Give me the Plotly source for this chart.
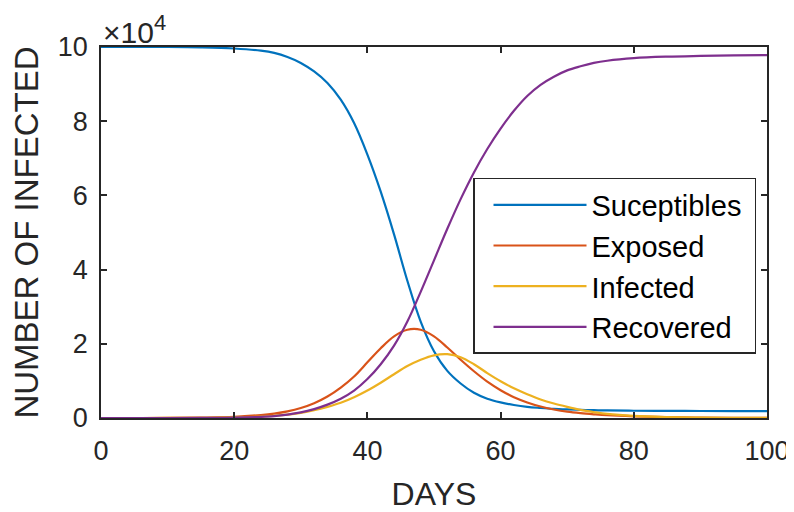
import plotly.graph_objects as go

# Values (units of 1e4 people)
days = [0, 5, 10, 15, 20, 24, 26, 28, 30, 32, 34, 36, 38, 40, 42, 44, 46, 48, 50, 52,
        54, 56, 58, 60, 62, 64, 66, 68, 70, 72, 74, 76, 80, 85, 90, 95, 100]

susceptibles = [10.0, 10.0, 10.0, 9.99, 9.96, 9.9, 9.84, 9.73, 9.57, 9.34, 9.03, 8.58, 7.95,
                7.1, 6.1, 4.95, 3.7, 2.6, 1.8, 1.27, 0.93, 0.68, 0.52, 0.42, 0.35, 0.3,
                0.27, 0.245, 0.23, 0.22, 0.21, 0.203, 0.196, 0.191, 0.189, 0.187, 0.186]

exposed = [0.0, 0.0, 0.002, 0.01, 0.03, 0.08, 0.12, 0.18, 0.27, 0.4, 0.58, 0.82, 1.12, 1.5,
           1.88, 2.2, 2.38, 2.38, 2.2, 1.9, 1.57, 1.26, 0.98, 0.75, 0.56, 0.42, 0.31, 0.23,
           0.17, 0.13, 0.1, 0.075, 0.045, 0.022, 0.011, 0.005, 0.003]

infected = [0.0, 0.0, 0.001, 0.005, 0.015, 0.04, 0.06, 0.09, 0.14, 0.21, 0.3, 0.41, 0.56,
            0.74, 0.95, 1.18, 1.4, 1.57, 1.69, 1.72, 1.64, 1.45, 1.21, 0.99, 0.8, 0.64,
            0.5, 0.39, 0.3, 0.22, 0.16, 0.11, 0.055, 0.025, 0.012, 0.006, 0.003]

recovered = [0.0, 0.0, 0.0, 0.002, 0.008, 0.03, 0.05, 0.09, 0.15, 0.24, 0.36, 0.52, 0.74,
             1.05, 1.45, 1.95, 2.6, 3.4, 4.25, 5.1, 5.9, 6.62, 7.25, 7.8, 8.28, 8.68, 8.98,
             9.2, 9.37, 9.48, 9.57, 9.63, 9.7, 9.74, 9.76, 9.775, 9.78]

series_names = ["Suceptibles", "Exposed", "Infected", "Recovered"]
series_values = [susceptibles, exposed, infected, recovered]
series_colors = ["#0072BD", "#D95319", "#EDB120", "#7E2F8E"]

x_ticks = [0, 20, 40, 60, 80, 100]
y_ticks = [0, 2, 4, 6, 8, 10]

FONT = "Liberation Sans, Arial, Helvetica, sans-serif"
AX = "#262626"

fig = go.Figure()
for i, (name, vals, col) in enumerate(zip(series_names, series_values, series_colors)):
    # a trailing no-break space on the widest entry gives the legend box its right padding
    label = name + "\u00a0" if i == 0 else name
    fig.add_trace(go.Scatter(
        x=days, y=vals, name=label, mode="lines",
        line=dict(color=col, width=2.2, shape="spline", smoothing=1.0),
    ))

axis_common = dict(
    showline=True, linecolor=AX, linewidth=1.5, mirror="ticks",
    ticks="inside", ticklen=6, tickwidth=1.5, tickcolor=AX,
    showgrid=False, zeroline=False, automargin=False,
    tickfont=dict(family=FONT, size=27, color=AX),
)

# The page body has an 8px margin, so the figure is sized to fill the rest of the window
fig.update_layout(
    width=786, height=504,
    margin=dict(l=93, r=27, t=39, b=94, autoexpand=False),
    paper_bgcolor="white", plot_bgcolor="white",
    font=dict(family=FONT, color=AX),
    xaxis=dict(range=[0, 100], tickvals=x_ticks, ticktext=[str(v) for v in x_ticks],
               title=dict(text="DAYS", font=dict(family=FONT, size=32, color=AX), standoff=18),
               ticklabelstandoff=8,
               **axis_common),
    yaxis=dict(range=[0, 10], tickvals=y_ticks, ticktext=[str(v) for v in y_ticks],
               title=dict(text="NUMBER OF INFECTED", font=dict(family=FONT, size=33, color=AX), standoff=13),
               ticklabelstandoff=6,
               **axis_common),
    legend=dict(
        x=0.9835, xanchor="right", y=0.647, yanchor="top",
        bgcolor="white", bordercolor=AX, borderwidth=1.5,
        font=dict(family=FONT, size=29, color="black"),
        itemwidth=93, indentation=14,
    ),
    showlegend=True,
)

fig.add_annotation(
    xref="paper", yref="paper", x=0.0, y=0.99, xanchor="left", yanchor="bottom",
    text="×10<sup><span style='font-size:22px'>4</span></sup>", showarrow=False,
    font=dict(family=FONT, size=30, color=AX),
)

fig.write_html("out.html")
